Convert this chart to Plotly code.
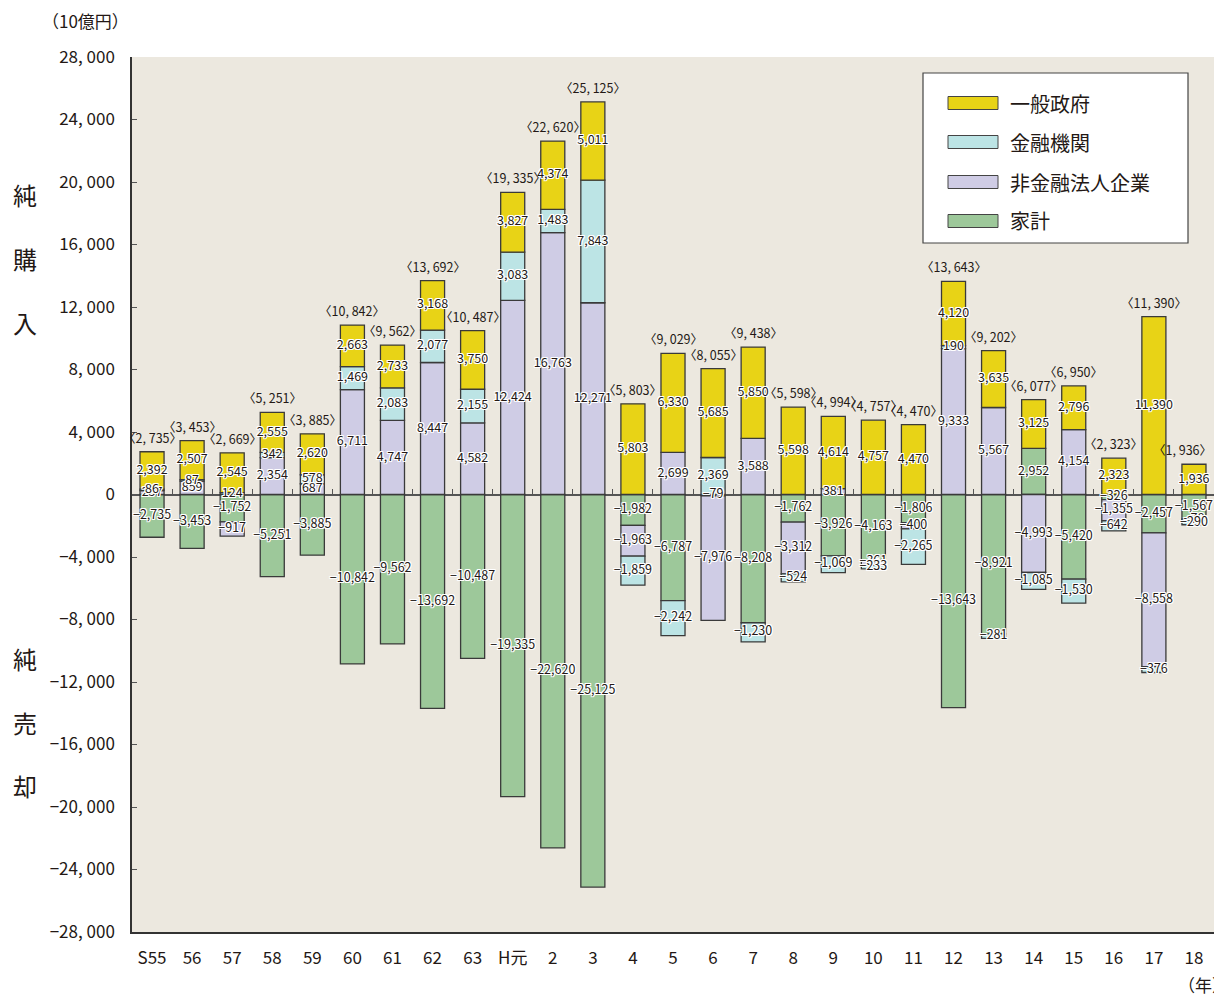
import plotly.graph_objects as go

# 年度区分（昭和55年〜平成18年）
years = ["S55", "56", "57", "58", "59", "60", "61", "62", "63", "H元",
         "2", "3", "4", "5", "6", "7", "8", "9", "10", "11",
         "12", "13", "14", "15", "16", "17", "18"]

# 部門別 純購入(+)・純売却(−)（10億円）
gov = [2392, 2507, 2545, 2555, 2620, 2663, 2733, 3168, 3750, 3827,
       4374, 5011, 5803, 6330, 5685, 5850, 5598, 4614, 4757, 4470,
       4120, 3635, 3125, 2796, 2323, 11390, 1936]
fin = [86, 87, 124, 342, 578, 1469, 2083, 2077, 2155, 3083,
       1483, 7843, -1859, -2242, 2369, -1230, -524, -1069, -233, -2265,
       190, -281, -1085, -1530, -642, -376, -290]
nonfin = [257, 859, -917, 2354, 687, 6711, 4747, 8447, 4582, 12424,
          16763, 12271, -1963, 2699, -7976, 3588, -3312, 381, -361, -400,
          9333, 5567, -4993, 4154, -1355, -8558, -78]
household = [-2735, -3453, -1752, -5251, -3885, -10842, -9562, -13692, -10487, -19335,
             -22620, -25125, -1982, -6787, -79, -8208, -1762, -3926, -4163, -1806,
             -13643, -8921, 2952, -5420, -326, -2457, -1567]
# 各年の純購入合計
totals = [2735, 3453, 2669, 5251, 3885, 10842, 9562, 13692, 10487, 19335,
          22620, 25125, 5803, 9029, 8055, 9438, 5598, 4994, 4757, 4470,
          13643, 9202, 6077, 6950, 2323, 11390, 1936]

y_ticks = list(range(-28000, 28001, 4000))

# 積み上げ順（下から）：家計、非金融法人企業、金融機関、一般政府
series = [
    ("家計", household, "#9DC89A"),
    ("非金融法人企業", nonfin, "#CFCCE5"),
    ("金融機関", fin, "#BCE4E5"),
    ("一般政府", gov, "#E8D316"),
]

FONT = "Noto Sans CJK JP, Noto Sans, sans-serif"
INK = "#231815"
HALO = ("-1px -1px 0 #fff, 1px -1px 0 #fff, -1px 1px 0 #fff, 1px 1px 0 #fff, "
        "0 1px 0 #fff, 0 -1px 0 #fff, 1px 0 0 #fff, -1px 0 0 #fff")


def fmt(v):
    s = f"{abs(v):,}"
    return ("−" + s) if v < 0 else s


fig = go.Figure()

for name, vals, color in series:
    fig.add_trace(go.Bar(
        x=years, y=vals, name=name,
        marker=dict(color=color, line=dict(color="#3a3a3a", width=1.3)),
        showlegend=False, hoverinfo="skip",
    ))

# 各区分の数値ラベル（区分の中央）
lab_x, lab_y, lab_t = [], [], []
for i, yr in enumerate(years):
    pos, neg = 0, 0
    for _, vals, _ in series:
        v = vals[i]
        if v >= 0:
            lab_y.append(pos + v / 2)
            pos += v
        else:
            lab_y.append(neg + v / 2)
            neg += v
        lab_x.append(yr)
        lab_t.append(fmt(v))

fig.add_trace(go.Scatter(
    x=lab_x, y=lab_y, text=lab_t, mode="text",
    textposition="middle center",
    textfont=dict(family=FONT, size=12.5, color=INK, shadow=HALO),
    showlegend=False, hoverinfo="skip",
))

# ゼロ線上の区切り目盛り用の補助軸
fig.add_trace(go.Scatter(
    x=years, y=[0] * len(years), xaxis="x2", mode="markers",
    marker=dict(opacity=0), showlegend=False, hoverinfo="skip",
))

# 合計ラベル（積み上げの上端の少し上）。カテゴリ軸上の位置は番号で指定
n = len(years)
for i in range(n):
    top = sum(v[i] for _, v, _ in series if v[i] > 0)
    last = i == n - 1
    fig.add_annotation(
        x=i + 0.5 if last else i, y=top, xref="x", yref="y",
        text="〈" + f"{totals[i]:,}".replace(",", ", ") + "〉",
        showarrow=False, xanchor="right" if last else "center",
        yanchor="bottom", yshift=3,
        font=dict(family=FONT, size=12.5, color=INK),
    )

fig.update_layout(
    width=1214, height=995,
    margin=dict(l=132, r=0, t=57, b=63),
    paper_bgcolor="white",
    plot_bgcolor="#ECE8DF",
    barmode="relative",
    bargap=0.4,
    font=dict(family=FONT, color=INK),
    xaxis=dict(
        type="category", categoryorder="array", categoryarray=years,
        range=[-0.5, n - 0.5], autorange=False,
        showline=True, linecolor="#333", linewidth=1.5,
        ticks="", showgrid=False, zeroline=False,
        tickfont=dict(size=17, color=INK), ticklabelstandoff=10,
    ),
    xaxis2=dict(
        type="category", categoryorder="array", categoryarray=years,
        range=[-0.5, n - 0.5], autorange=False,
        overlaying="x", anchor="free", position=0.5, side="bottom",
        showline=False, ticks="inside", ticklen=6, tickcolor="#555", tickwidth=1.2,
        tickson="boundaries", showticklabels=False, showgrid=False, zeroline=False,
    ),
    yaxis=dict(
        range=[-28000, 28000], autorange=False,
        tickvals=y_ticks,
        ticktext=[("−" if v < 0 else "") + f"{abs(v):,}".replace(",", ", ") for v in y_ticks],
        showline=True, linecolor="#333", linewidth=1.5,
        ticks="inside", ticklen=5, tickcolor="#555",
        showgrid=False, zeroline=True, zerolinecolor="#555", zerolinewidth=1.6,
        tickfont=dict(size=17, color=INK), ticklabelstandoff=12,
    ),
)


def px_x(px):
    return (px - 132) / 1082


def px_y(py):
    return (932 - py) / 875


# 単位・軸見出し
fig.add_annotation(text="（10億円）", xref="paper", yref="paper",
                   x=px_x(85), y=px_y(21), xanchor="center", yanchor="middle",
                   showarrow=False, font=dict(size=17, color=INK))
fig.add_annotation(text="（年）", xref="paper", yref="paper",
                   x=px_x(1176), y=px_y(985),
                   xanchor="left", yanchor="middle",
                   showarrow=False, font=dict(size=17, color=INK))

for ch, py in zip("純購入", [195, 258, 322]):
    fig.add_annotation(text=ch, xref="paper", yref="paper",
                       x=px_x(25), y=px_y(py),
                       xanchor="center", yanchor="middle", showarrow=False,
                       font=dict(size=24, color=INK))
for ch, py in zip("純売却", [658, 722, 785]):
    fig.add_annotation(text=ch, xref="paper", yref="paper",
                       x=px_x(25), y=px_y(py),
                       xanchor="center", yanchor="middle", showarrow=False,
                       font=dict(size=24, color=INK))

# 凡例（枠と色見本）
fig.add_shape(type="rect", xref="paper", yref="paper",
              x0=px_x(923), x1=px_x(1188), y0=px_y(243), y1=px_y(73),
              fillcolor="white", line=dict(color="#444", width=1.2), layer="above")
for (name, _, color), cy in zip(reversed(series), [103, 142, 182, 221]):
    fig.add_shape(type="rect", xref="paper", yref="paper",
                  x0=px_x(948), x1=px_x(998), y0=px_y(cy + 6.5), y1=px_y(cy - 6.5),
                  fillcolor=color, line=dict(color="#444", width=1), layer="above")
    fig.add_annotation(text=name, xref="paper", yref="paper",
                       x=px_x(1008), y=px_y(cy), xanchor="left", yanchor="middle",
                       showarrow=False, font=dict(size=20, color=INK))

fig.write_html("out.html")
